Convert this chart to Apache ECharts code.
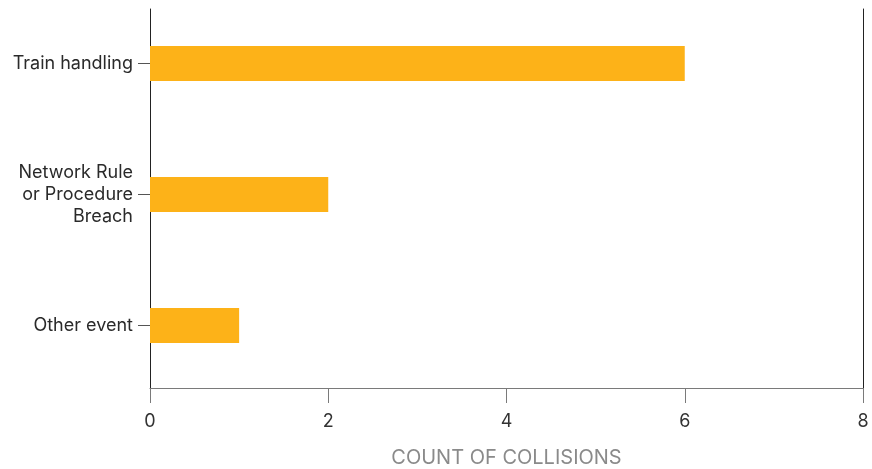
<!DOCTYPE html>
<html>
<head>
<meta charset="utf-8">
<script src="https://cdn.jsdelivr.net/npm/echarts@6/dist/echarts.min.js"></script>
<style>
  html, body { margin: 0; padding: 0; background: #fff; }
  #chart { width: 872px; height: 469px; }
</style>
</head>
<body>
<div id="chart"></div>
<script>
// causes, top to bottom
const categories = ['Train handling', 'Network Rule\nor Procedure\nBreach', 'Other event'];
const counts = [6, 2, 1];
const xTicks = [0, 2, 4, 6, 8];

const font = 'Inter, "Liberation Sans", sans-serif';
const chart = echarts.init(document.getElementById('chart'), null, { renderer: 'canvas' });

chart.setOption({
  animation: false,
  grid: [
    // bars grid, bands a bit taller than the frame
    { left: 150, right: 9, top: -2, bottom: 78, outerBoundsMode: 'none' },
    // frame grid: the visible x axis and the two dark vertical lines
    { left: 150, right: 9, top: 9, bottom: 81, outerBoundsMode: 'none' }
  ],
  xAxis: [
    {
      type: 'value',
      gridIndex: 0,
      min: xTicks[0],
      max: xTicks[xTicks.length - 1],
      interval: 2,
      show: false
    },
    {
      type: 'value',
      gridIndex: 1,
      min: xTicks[0],
      max: xTicks[xTicks.length - 1],
      interval: 2,
      name: 'COUNT OF COLLISIONS',
      nameLocation: 'middle',
      nameGap: 60,
      nameTextStyle: { color: '#8a8a8a', fontSize: 20, fontFamily: font },
      axisLine: { show: true, lineStyle: { color: '#7a7a7a', width: 1 } },
      axisTick: { show: true, length: 15, lineStyle: { color: '#7a7a7a' } },
      axisLabel: { color: '#333', fontSize: 18, fontFamily: font, margin: 25 },
      splitLine: { show: false }
    }
  ],
  yAxis: [
    {
      type: 'category',
      gridIndex: 0,
      inverse: true,
      data: categories,
      axisLine: { show: false },
      axisTick: { show: true, alignWithLabel: true, length: 12, lineStyle: { color: '#555' } },
      axisLabel: {
        color: '#2a2a2a',
        fontSize: 18,
        fontFamily: font,
        margin: 17,
        align: 'right',
        lineHeight: 22
      }
    },
    {
      type: 'value',
      gridIndex: 1,
      position: 'left',
      axisLine: { show: true, lineStyle: { color: '#222', width: 1 } },
      axisTick: { show: false },
      axisLabel: { show: false },
      splitLine: { show: false }
    },
    {
      type: 'value',
      gridIndex: 1,
      position: 'right',
      axisLine: { show: true, lineStyle: { color: '#222', width: 1 } },
      axisTick: { show: false },
      axisLabel: { show: false },
      splitLine: { show: false }
    }
  ],
  series: [
    {
      type: 'bar',
      xAxisIndex: 0,
      yAxisIndex: 0,
      data: counts,
      barWidth: 35,
      itemStyle: { color: '#fdb218' }
    }
  ]
});
</script>
</body>
</html>
